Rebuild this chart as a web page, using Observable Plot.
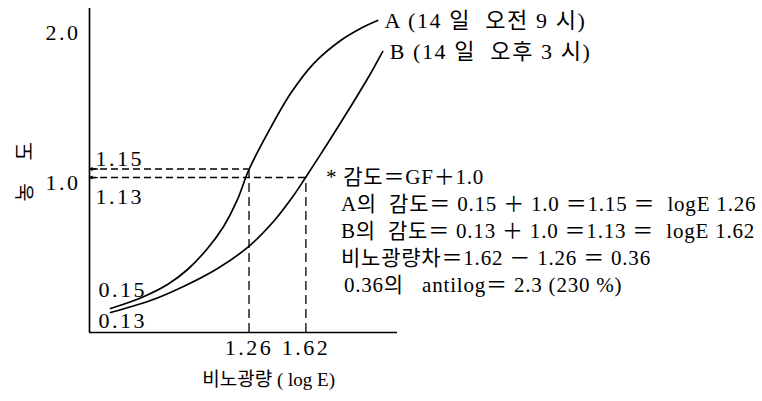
<!DOCTYPE html>
<html>
<head>
<meta charset="utf-8">
<script src="https://cdn.jsdelivr.net/npm/d3@7"></script>
<script src="https://cdn.jsdelivr.net/npm/@observablehq/plot@0.6"></script>
<style>
  html, body { margin: 0; padding: 0; background: #fff; }
  svg text { white-space: pre; }
</style>
</head>
<body>
<div id="chart"></div>
<script>
// ---- data ----
const seriesLabels = ["A (14 일  오전 9 시)", "B (14 일  오후 3 시)"];
const curveA_x = [0.383, 0.573, 0.744, 0.871, 0.997, 1.099, 1.187, 1.257, 1.377, 1.523, 1.669, 1.84, 1.966, 2.074];
const curveA_y = [0.16, 0.23, 0.32, 0.42, 0.56, 0.707, 0.887, 1.08, 1.327, 1.593, 1.793, 1.947, 2.027, 2.08];
const curveB_x = [0.383, 0.636, 0.845, 1.061, 1.251, 1.415, 1.542, 1.618, 1.757, 1.884, 2.011, 2.106];
const curveB_y = [0.133, 0.213, 0.307, 0.427, 0.567, 0.74, 0.913, 1.033, 1.26, 1.473, 1.693, 1.873];
const fogLabels = ["0.15", "0.13"];
const sensLevels = [1.09, 1.033];          // dashed levels as drawn
const sensLabels = ["1.15", "1.13"];
const logE = [1.26, 1.62];
const yTicks = [1, 2];
const yTitleChars = ["도", "농"];
const xTitle = "비노광량 ( log E)";
const notes = [
  "* 감도＝GF＋1.0",
  "A의  감도＝ 0.15 ＋ 1.0 ＝1.15 ＝  logE 1.26",
  "B의  감도＝ 0.13 ＋ 1.0 ＝1.13 ＝  logE 1.62",
  "비노광량차＝1.62 － 1.26 ＝ 0.36",
  "0.36의   antilog＝ 2.3 (230 %)"
];
const xDomain = [0.25, 2.2];
const yDomain = [0, 2.16];

// ---- build tables ----
const curves = [
  ...curveA_x.map((x, i) => ({series: "A", x, y: curveA_y[i]})),
  ...curveB_x.map((x, i) => ({series: "B", x, y: curveB_y[i]}))
];
const ends = [
  {x: curveA_x[curveA_x.length - 1], y: curveA_y[curveA_y.length - 1], label: seriesLabels[0]},
  {x: curveB_x[curveB_x.length - 1], y: curveB_y[curveB_y.length - 1], label: seriesLabels[1]}
];
const levels = sensLevels.map((y, i) => ({y, x: logE[i], label: sensLabels[i]}));
const x0 = () => xDomain[0];

const serif = '"Liberation Serif", "Noto Sans CJK KR", serif';

const chart = Plot.plot({
  width: 762,
  height: 401,
  marginLeft: 89,
  marginRight: 365,
  marginTop: 8,
  marginBottom: 69,
  x: {domain: xDomain},
  y: {domain: yDomain},
  style: {fontFamily: serif, fontSize: "20px", color: "#000", background: "#fff", overflow: "visible"},
  marks: [
    // axis lines
    Plot.ruleX([xDomain[0]], {stroke: "#000", strokeWidth: 1.7}),
    Plot.ruleY([0], {stroke: "#000", strokeWidth: 1.7}),
    // tick labels
    Plot.axisY({ticks: yTicks, tickSize: 0, tickPadding: 9, tickFormat: d => d.toFixed(1), label: null, fontSize: 22}),
    Plot.axisX({ticks: logE, tickSize: 0, tickPadding: 7, tickFormat: d => d.toFixed(2), label: null, fontSize: 22}),
    // dashed guides
    Plot.ruleY(levels, {y: "y", x1: x0, x2: "x", stroke: "#000", strokeWidth: 1.5, strokeDasharray: "7,4"}),
    Plot.ruleX(levels, {x: "x", y1: 0, y2: "y", stroke: "#000", strokeWidth: 1.3, strokeDasharray: "9,5"}),
    Plot.arrow(levels, {x1: d => xDomain[0] + 0.05, y1: "y", x2: d => xDomain[0] + 0.004, y2: "y", stroke: "#000", strokeWidth: 1.3, headLength: 7}),
    // curves
    Plot.line(curves, {x: "x", y: "y", z: "series", curve: "catmull-rom", stroke: "#000", strokeWidth: 1.7}),
    // series labels
    Plot.text(ends, {x: "x", y: "y", text: "label", dx: 7, textAnchor: "start", fontSize: 22, lineAnchor: "middle"}),
    // sensitivity level labels
    Plot.text([levels[0]], {x: x0, y: "y", text: "label", dx: 6, dy: -10, textAnchor: "start", fontSize: 22}),
    Plot.text([levels[1]], {x: x0, y: "y", text: "label", dx: 6, dy: 19, textAnchor: "start", fontSize: 22}),
    // fog labels
    Plot.text([{y: curveA_y[0], label: fogLabels[0]}], {x: x0, y: "y", text: "label", dx: 9, dy: -19, textAnchor: "start", fontSize: 22}),
    Plot.text([{y: curveB_y[0], label: fogLabels[1]}], {x: x0, y: "y", text: "label", dx: 9, dy: 8, textAnchor: "start", fontSize: 22}),
    // notes
    ...notes.map((t, i) => Plot.text([t], {x: () => logE[1], y: () => sensLevels[1], text: d => d, textAnchor: "start",
      fontSize: 21, dx: i === 0 ? 20 : (i === 4 ? 38 : 35), dy: i * 27, lineAnchor: "middle"})),
    // axis titles
    Plot.text([yTitleChars[0]], {frameAnchor: "left", dx: -64, dy: -10, rotate: -90, fontSize: 20}),
    Plot.text([yTitleChars[1]], {frameAnchor: "left", dx: -64, dy: 31, rotate: -90, fontSize: 20}),
    Plot.text([xTitle], {x: () => 1.384, frameAnchor: "bottom", dy: 53, fontSize: 19})
  ]
});
document.getElementById("chart").appendChild(chart);

// letter spacing (typesetting style of the original)
const numberTexts = new Set([...fogLabels, ...sensLabels, "1.0", "2.0", "1.26", "1.62"]);
d3.select(chart).selectAll("text").each(function () {
  const t = this.textContent;
  if (notes.includes(t)) this.setAttribute("letter-spacing", "0.8");
  else if (seriesLabels.includes(t)) this.setAttribute("letter-spacing", "1.6");
  else if (numberTexts.has(t)) this.setAttribute("letter-spacing", "2.5");
});
</script>
</body>
</html>
